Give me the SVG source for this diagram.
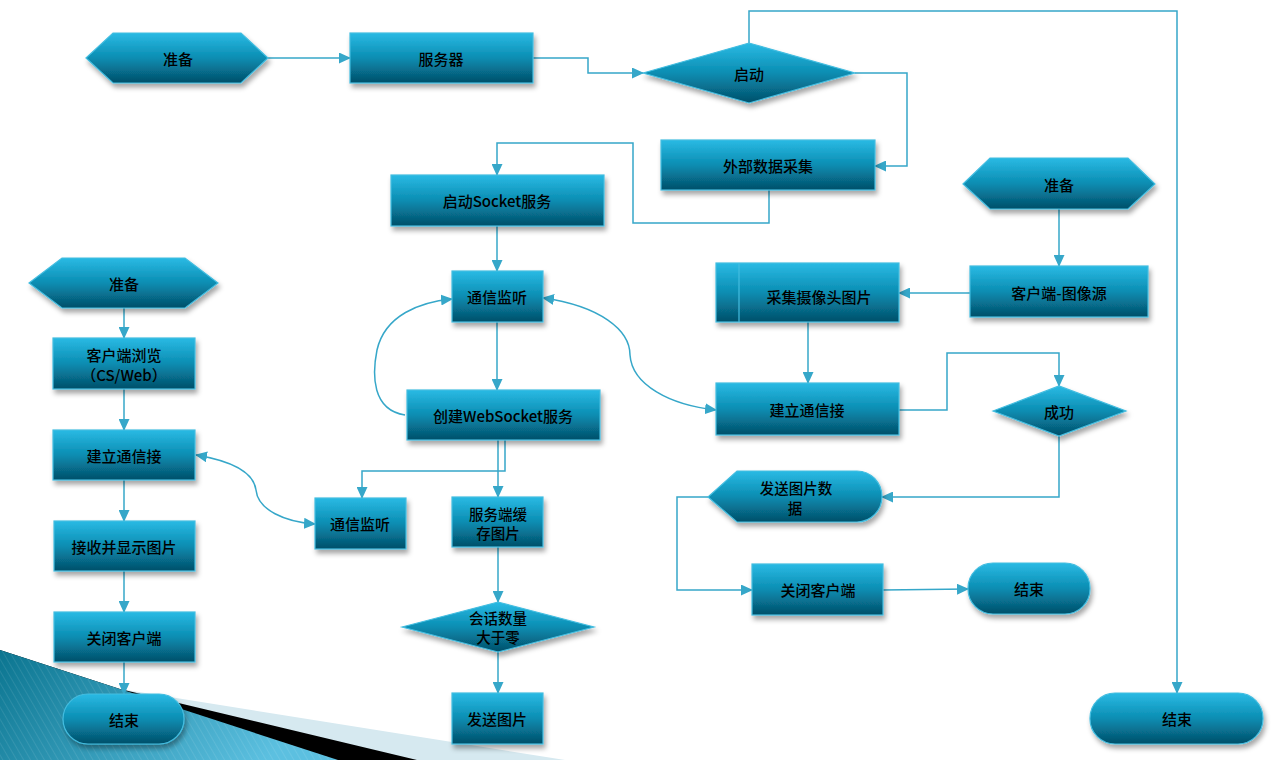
<svg xmlns="http://www.w3.org/2000/svg" width="1288" height="760" viewBox="0 0 1288 760">
<defs>
<linearGradient id="g" x1="0" y1="0" x2="0" y2="1">
<stop offset="0" stop-color="#2abae4"/>
<stop offset="0.5" stop-color="#0a8db2"/>
<stop offset="1" stop-color="#044f69"/>
</linearGradient>
<linearGradient id="teal" x1="0" y1="0" x2="1" y2="0.3">
<stop offset="0" stop-color="#0b7590"/>
<stop offset="1" stop-color="#5cc0e0"/>
</linearGradient>
<pattern id="stripes" width="6" height="6" patternUnits="userSpaceOnUse" patternTransform="rotate(-30)">
<line x1="0" y1="0" x2="0" y2="6" stroke="#ffffff" stroke-opacity="0.18" stroke-width="1"/>
</pattern>
<filter id="sh" x="-10%" y="-15%" width="125%" height="150%">
<feDropShadow dx="2" dy="4" stdDeviation="2.5" flood-color="#000" flood-opacity="0.35"/>
</filter>
<marker id="ar" markerUnits="userSpaceOnUse" markerWidth="12" markerHeight="11" refX="11" refY="5.5" orient="auto-start-reverse" viewBox="0 0 12 11">
<path d="M0,0 L12,5.5 L0,11 Z" fill="#36a7c9"/>
</marker>
<style>
.n{fill:url(#g);stroke:#43bde0;stroke-width:1.2;filter:url(#sh)}
.t{font-family:"Noto Sans CJK SC","Noto Sans",sans-serif;font-size:15px;font-weight:500;fill:#000;text-anchor:middle;dominant-baseline:central}
.s{font-size:14.5px}
.c{fill:none;stroke:#36a7c9;stroke-width:1.5}
.a{marker-end:url(#ar)}
.b{marker-start:url(#ar);marker-end:url(#ar)}
</style>
</defs>
<rect width="1288" height="760" fill="#ffffff"/>
<g id="decor">
<polygon points="0,650 120,689 565,760 0,760" fill="#d6e9f0"/>
<polygon points="0,650 120,689 417,760 0,760" fill="#000000"/>
<polygon points="0,650 338,760 0,760" fill="url(#teal)"/>
<polygon points="0,650 338,760 0,760" fill="url(#stripes)"/>
</g>
<g id="connectors">
<path class="c a" d="M268,58 L350,58"/>
<path class="c a" d="M533,58 L588,58 L588,73 L643,73"/>
<path class="c a" d="M749,43 L749,11 L1177,11 L1177,693"/>
<path class="c a" d="M855,73 L907,73 L907,166 L875,166"/>
<path class="c a" d="M769,190 L769,223 L633,223 L633,143 L497,143 L497,175"/>
<path class="c a" d="M497,226 L497,271"/>
<path class="c a" d="M497,322 L497,390"/>
<path class="c a" d="M405,415 C372,410 372,375 377,350 C385,315 420,302 452,299"/>
<path class="c b" d="M543,298 C600,306 630,330 630,355 C632,385 670,405 716,410"/>
<path class="c a" d="M498,440 L498,497"/>
<path class="c a" d="M505,440 L505,471 L362,471 L362,498"/>
<path class="c b" d="M196,455 C238,462 254,475 256,490 C258,510 285,522 315,524"/>
<path class="c a" d="M498,547 L498,602"/>
<path class="c a" d="M498,652 L498,693"/>
<path class="c a" d="M1059,209 L1059,266"/>
<path class="c a" d="M970,293 L899,293"/>
<path class="c a" d="M808,322 L808,383"/>
<path class="c a" d="M899,410 L947,410 L947,353 L1059,353 L1059,386"/>
<path class="c a" d="M1059,436 L1059,497 L882,497"/>
<path class="c a" d="M708,497 L677,497 L677,590 L752,590"/>
<path class="c a" d="M883,590 L968,589"/>
<path class="c a" d="M124,308 L124,338"/>
<path class="c a" d="M124,389 L124,430"/>
<path class="c a" d="M124,480 L124,521"/>
<path class="c a" d="M124,571 L124,612"/>
<path class="c a" d="M124,662 L124,694"/>
</g>
<g id="n_prepare1"><path class="n" d="M86,58 L113,33 L241,33 L268,58 L241,83 L113,83 Z"/><text class="t" x="178" y="58">准备</text></g>
<g id="n_server"><rect class="n" x="350" y="33" width="183" height="50"/><text class="t" x="441" y="58">服务器</text></g>
<g id="n_start"><path class="n" d="M643,73 L749,43 L855,73 L749,103 Z"/><text class="t" x="749" y="73">启动</text></g>
<g id="n_collect"><rect class="n" x="661" y="140" width="214" height="50"/><text class="t" x="768" y="165">外部数据采集</text></g>
<g id="n_socket"><rect class="n" x="391" y="175" width="213" height="51"/><text class="t" x="497" y="200">启动Socket服务</text></g>
<g id="n_listen1"><rect class="n" x="452" y="271" width="91" height="51"/><text class="t" x="497" y="296">通信监听</text></g>
<g id="n_ws"><rect class="n" x="407" y="390" width="193" height="50"/><text class="t" x="503" y="415">创建WebSocket服务</text></g>
<g id="n_listen2"><rect class="n" x="315" y="498" width="91" height="51"/><text class="t" x="360" y="523">通信监听</text></g>
<g id="n_cache"><rect class="n" x="452" y="497" width="91" height="50"/><text class="t s" x="498" y="513"><tspan x="498" y="513">服务端缓</tspan><tspan x="498" y="532">存图片</tspan></text></g>
<g id="n_session"><path class="n" d="M402,627 L498,602 L594,627 L498,652 Z"/><text class="t s" x="498" y="617"><tspan x="498" y="617">会话数量</tspan><tspan x="498" y="636">大于零</tspan></text></g>
<g id="n_sendpic"><rect class="n" x="452" y="693" width="91" height="51"/><text class="t" x="497" y="718">发送图片</text></g>
<g id="n_prepare2"><path class="n" d="M963,184 L990,158 L1128,158 L1155,184 L1128,209 L990,209 Z"/><text class="t" x="1059" y="184">准备</text></g>
<g id="n_source"><rect class="n" x="970" y="266" width="178" height="51"/><text class="t" x="1059" y="292">客户端-图像源</text></g>
<g id="n_camera"><rect class="n" x="716" y="263" width="183" height="59"/><line x1="739" y1="263" x2="739" y2="322" stroke="#43bde0" stroke-width="1.2"/><text class="t" x="819" y="296">采集摄像头图片</text></g>
<g id="n_conn_r"><rect class="n" x="716" y="383" width="183" height="52"/><text class="t" x="807" y="409">建立通信接</text></g>
<g id="n_ok"><path class="n" d="M993,411 L1059,386 L1126,411 L1059,436 Z"/><text class="t" x="1059" y="411">成功</text></g>
<g id="n_senddata"><path class="n" d="M708,497 L737,471 L857,471 A25,25.5 0 0 1 857,522 L737,522 Z"/><text class="t s" x="796" y="487"><tspan x="796" y="487">发送图片数</tspan><tspan x="795" y="507">据</tspan></text></g>
<g id="n_close_r"><rect class="n" x="752" y="564" width="131" height="51"/><text class="t" x="818" y="589">关闭客户端</text></g>
<g id="n_end_r"><rect class="n" x="968" y="563" width="122" height="51" rx="25" ry="25"/><text class="t" x="1029" y="588">结束</text></g>
<g id="n_end_far"><rect class="n" x="1090" y="693" width="173" height="51" rx="25" ry="25"/><text class="t" x="1177" y="718">结束</text></g>
<g id="n_prepare3"><path class="n" d="M29,283 L62,258 L185,258 L218,283 L185,308 L62,308 Z"/><text class="t" x="124" y="283">准备</text></g>
<g id="n_browse"><rect class="n" x="53" y="338" width="142" height="51"/><text class="t" x="124" y="354"><tspan x="124" y="354">客户端浏览</tspan><tspan x="124" y="374">（CS/Web）</tspan></text></g>
<g id="n_conn_l"><rect class="n" x="53" y="430" width="142" height="50"/><text class="t" x="124" y="455">建立通信接</text></g>
<g id="n_recv"><rect class="n" x="54" y="521" width="141" height="50"/><text class="t" x="124" y="546">接收并显示图片</text></g>
<g id="n_close_l"><rect class="n" x="54" y="612" width="141" height="50"/><text class="t" x="124" y="637">关闭客户端</text></g>
<g id="n_end_l"><rect class="n" x="63" y="694" width="121" height="50" rx="25" ry="25"/><text class="t" x="124" y="719">结束</text></g>
</svg>
